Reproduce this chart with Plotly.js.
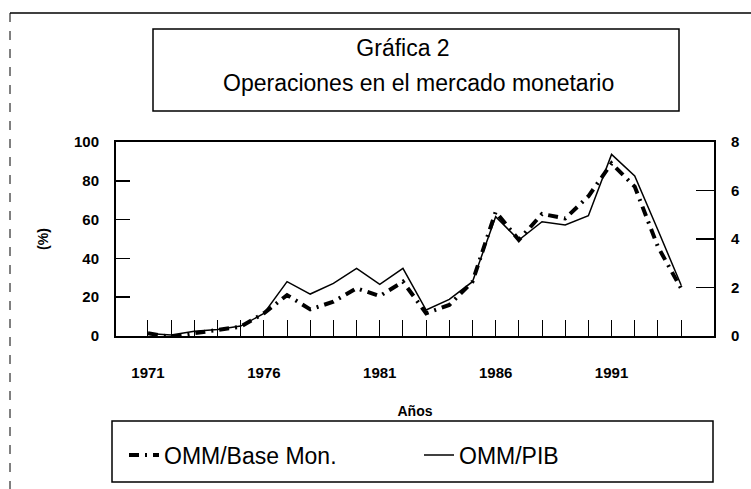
<!DOCTYPE html>
<html>
<head>
<meta charset="utf-8">
<script src="https://cdn.plot.ly/plotly-3.0.1.min.js"></script>
<style>html,body{margin:0;padding:0;background:#fff}#chart{width:751px;height:489px}</style>
</head>
<body>
<div id="chart"></div>
<script>
// ---- data ----
const years = [1971,1972,1973,1974,1975,1976,1977,1978,1979,1980,1981,1982,1983,1984,1985,1986,1987,1988,1989,1990,1991,1992,1993,1994];
const ommBaseMon = [1.4,-0.5,1.4,3.1,4.8,11.7,21.1,13.7,17.7,24.6,20.6,28,11.7,16,28,64,49.5,62.9,60.6,72,89,77,46,24.5]; // %, left axis
const ommPib = [0.1,0.04,0.2,0.27,0.41,0.93,2.24,1.73,2.17,2.79,2.13,2.79,1.07,1.51,2.24,4.92,3.96,4.71,4.58,4.96,7.49,6.6,4.37,2.1]; // right axis
const labelYears = [1971,1976,1981,1986,1991];
const leftTicks = [0,20,40,60,80,100];
const rightTicks = [0,2,4,6,8];
const seriesNames = ['OMM/Base Mon.','OMM/PIB'];
const titleLine1 = 'Gráfica 2';
const titleLine2 = 'Operaciones en el mercado monetario';
const xTitle = 'Años';
const yTitle = '(%)';

const FONT = 'Liberation Sans, Arial, Helvetica, sans-serif';
const tickText = years.map(y => labelYears.includes(y) ? String(y) : '');

const traces = [
  {x: years, y: ommBaseMon, name: seriesNames[0], type: 'scatter', mode: 'lines', yaxis: 'y',
   line: {color: '#000', width: 4, dash: '10px,6px,2px,6px'}},
  {x: years, y: ommPib, name: seriesNames[1], type: 'scatter', mode: 'lines', yaxis: 'y2',
   line: {color: '#000', width: 1.5}}
];

// plot area: x 116..714, y 142..336
const W = 751, H = 489;
const L = 116, R = 714, T = 142, B = 336;
const px = v => (v - L) / (R - L);
const py = v => (B - v) / (B - T);

const layout = {
  width: W, height: H,
  margin: {l: L, r: W - R, t: T, b: H - B, pad: 0},
  paper_bgcolor: '#fff', plot_bgcolor: '#fff',
  font: {family: FONT, color: '#000'},
  showlegend: true,
  title: {text: titleLine1, font: {family: FONT, size: 23, color: '#000'},
          xref: 'container', x: 403 / W, xanchor: 'center', yref: 'container', y: 1 - 48 / H, yanchor: 'middle',
          pad: {t: 0, b: 0, l: 0, r: 0}},
  xaxis: {range: [1969.62, 1995.42], tickmode: 'array', tickvals: years, ticktext: tickText,
          ticks: 'inside', ticklen: 16, tickwidth: 1, tickcolor: '#000',
          showline: true, linewidth: 2, linecolor: '#000', mirror: true,
          showgrid: false, zeroline: false, ticklabelstandoff: 22,
          tickfont: {family: FONT, size: 15, weight: 'bold', color: '#000'},
          title: {text: xTitle, font: {family: FONT, size: 14, weight: 'bold', color: '#000'}, standoff: 26}},
  yaxis: {range: [0, 100], tickmode: 'array', tickvals: leftTicks,
          ticks: 'inside', ticklen: 14, tickwidth: 1.5, tickcolor: '#000',
          showline: true, linewidth: 2, linecolor: '#000', mirror: true,
          showgrid: false, zeroline: false, ticklabelstandoff: 12,
          tickfont: {family: FONT, size: 15, weight: 'bold', color: '#000'},
          title: {text: yTitle, font: {family: FONT, size: 14, weight: 'bold', color: '#000'}, standoff: 22}},
  yaxis2: {range: [0, 8], tickmode: 'array', tickvals: rightTicks, overlaying: 'y', side: 'right',
          ticks: 'inside', ticklen: 18, tickwidth: 1.5, tickcolor: '#000',
          showline: true, linewidth: 2, linecolor: '#000',
          showgrid: false, zeroline: false, ticklabelstandoff: 12,
          tickfont: {family: FONT, size: 15, weight: 'bold', color: '#000'}},
  legend: {orientation: 'h', x: px(124), xanchor: 'left', y: py(455), yanchor: 'middle',
           font: {family: FONT, size: 23, color: '#000'}, bgcolor: 'rgba(0,0,0,0)', borderwidth: 0,
           entrywidth: 250, entrywidthmode: 'pixels', traceorder: 'normal'},
  annotations: [
    {text: titleLine2, xref: 'paper', yref: 'paper', x: px(418.5), y: py(83), xanchor: 'center', yanchor: 'middle',
     showarrow: false, font: {family: FONT, size: 23, color: '#000'}}
  ],
  shapes: [
    {type: 'rect', xref: 'paper', yref: 'paper', x0: px(153), x1: px(679), y0: py(111), y1: py(29),
     line: {color: '#000', width: 1.5}},
    {type: 'line', xref: 'paper', yref: 'paper', x0: px(10), x1: px(751), y0: py(13), y1: py(13),
     line: {color: '#000', width: 1.5}},
    {type: 'line', xref: 'paper', yref: 'paper', x0: px(10), x1: px(10), y0: py(13), y1: py(489),
     line: {color: '#000', width: 1, dash: 'dash'}},
    {type: 'rect', xref: 'paper', yref: 'paper', x0: px(112), x1: px(713), y0: py(482), y1: py(421),
     line: {color: '#000', width: 1.5}}
  ]
};

Plotly.newPlot('chart', traces, layout, {staticPlot: true, displayModeBar: false});
</script>
</body>
</html>
